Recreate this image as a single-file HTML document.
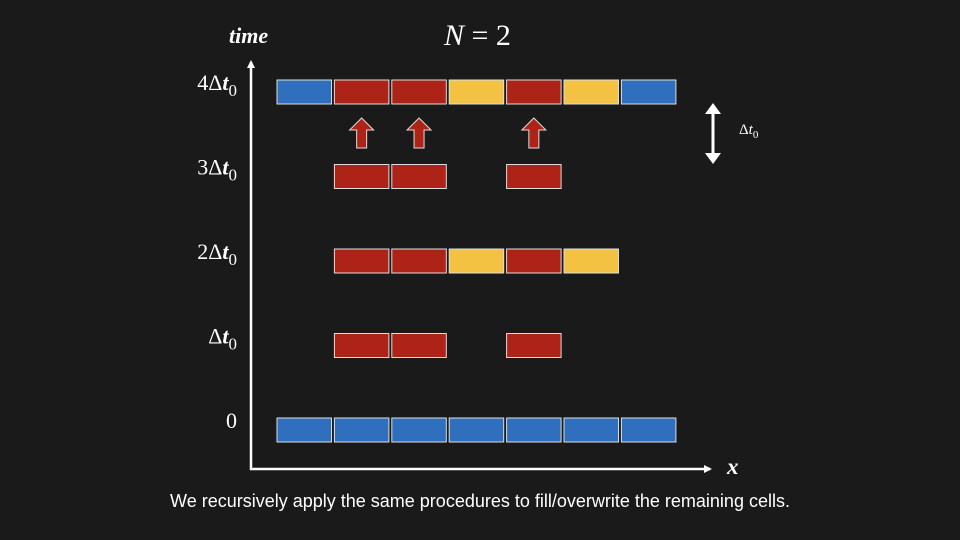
<!DOCTYPE html>
<html><head><meta charset="utf-8"><style>
html,body{margin:0;padding:0;background:#1a1a1a;}
svg{display:block}
.ser{font-family:"Liberation Serif",serif;fill:#fff}
</style></head><body>
<svg width="960" height="540" viewBox="0 0 960 540">
<defs>
<marker id="ah" markerWidth="8" markerHeight="8" refX="6" refY="4" orient="auto" markerUnits="userSpaceOnUse"><path d="M0,0 L8,4 L0,8 z" fill="#fff"/></marker>
</defs>
<rect width="960" height="540" fill="#1a1a1a"/>
<line x1="251" y1="470" x2="251" y2="62" stroke="#fff" stroke-width="2.5" marker-end="url(#ah)"/>
<line x1="250" y1="469" x2="710" y2="469" stroke="#fff" stroke-width="2.5" marker-end="url(#ah)"/>
<text x="229" y="43" class="ser" font-size="22" font-weight="bold" font-style="italic">time</text>
<text x="727" y="474" class="ser" font-size="23" font-weight="bold" font-style="italic">x</text>
<text x="444" y="45" class="ser" font-size="30"><tspan font-style="italic">N</tspan> = 2</text>
<g id="rows"></g>
<g id="labels"></g>
<g id="arrows"></g>
<g>
<line x1="713" y1="110" x2="713" y2="158" stroke="#fff" stroke-width="3"/>
<path d="M705,114 L713,103 L721,114 z" fill="#fff"/>
<path d="M705,153 L713,164 L721,153 z" fill="#fff"/>
<text x="739" y="134" class="ser" font-size="15">Δ<tspan font-style="italic">t</tspan><tspan font-size="11" dy="4">0</tspan></text>
</g>
<text x="480" y="507" text-anchor="middle" font-family="Liberation Sans, sans-serif" font-size="18" fill="#fff">We recursively apply the same procedures to fill/overwrite the remaining cells.</text>
</svg>
<script>
const rowLabels=["0","Δt0","2Δt0","3Δt0","4Δt0"];
const rowCoef=["0","","2","3","4"];
// cell states per row: B=blue, R=red, Y=yellow, -=empty
const row0=["B","B","B","B","B","B","B"];
const row1=["-","R","R","-","R","-","-"];
const row2=["-","R","R","Y","R","Y","-"];
const row3=["-","R","R","-","R","-","-"];
const row4=["B","R","R","Y","R","Y","B"];
const rowsData=[row0,row1,row2,row3,row4];
const arrowCols=[1,2,4];
const colors={B:"#2f6fbe",R:"#ad2318",Y:"#f3c242"};
const NS="http://www.w3.org/2000/svg";
const xPos=i=>277+i*57.4;
const yPos=r=>418-r*84.5;
const cw=54.5, ch=24;
const g=document.getElementById('rows');
rowsData.forEach((row,r)=>{row.forEach((c,i)=>{if(c==="-")return;
const el=document.createElementNS(NS,'rect');
el.setAttribute('x',xPos(i));el.setAttribute('y',yPos(r));el.setAttribute('width',cw);el.setAttribute('height',ch);
el.setAttribute('fill',colors[c]);el.setAttribute('stroke','#ddd');el.setAttribute('stroke-width','1');


g.appendChild(el);});});
const lg=document.getElementById('labels');
rowLabels.forEach((l,r)=>{const t=document.createElementNS(NS,'text');
t.setAttribute('x',237);t.setAttribute('y',yPos(r)+10);t.setAttribute('text-anchor','end');t.setAttribute('class','ser');t.setAttribute('font-size','22');
if(r===0){t.textContent="0";}else{t.innerHTML=rowCoef[r]+'Δ<tspan font-style="italic" font-weight="bold">t</tspan><tspan font-size="17" dy="6">0</tspan>';}


lg.appendChild(t);});
const ag=document.getElementById('arrows');
arrowCols.forEach(i=>{const cx=xPos(i)+cw/2,top=118,bot=148;
const p=document.createElementNS(NS,'path');
p.setAttribute('d',`M${cx},${top} L${cx+12},${top+12} L${cx+5},${top+12} L${cx+5},${bot} L${cx-5},${bot} L${cx-5},${top+12} L${cx-12},${top+12} Z`);
p.setAttribute('fill','#ad2318');p.setAttribute('stroke','#ddd');p.setAttribute('stroke-width','1');


ag.appendChild(p);});
</script>
</body></html>
